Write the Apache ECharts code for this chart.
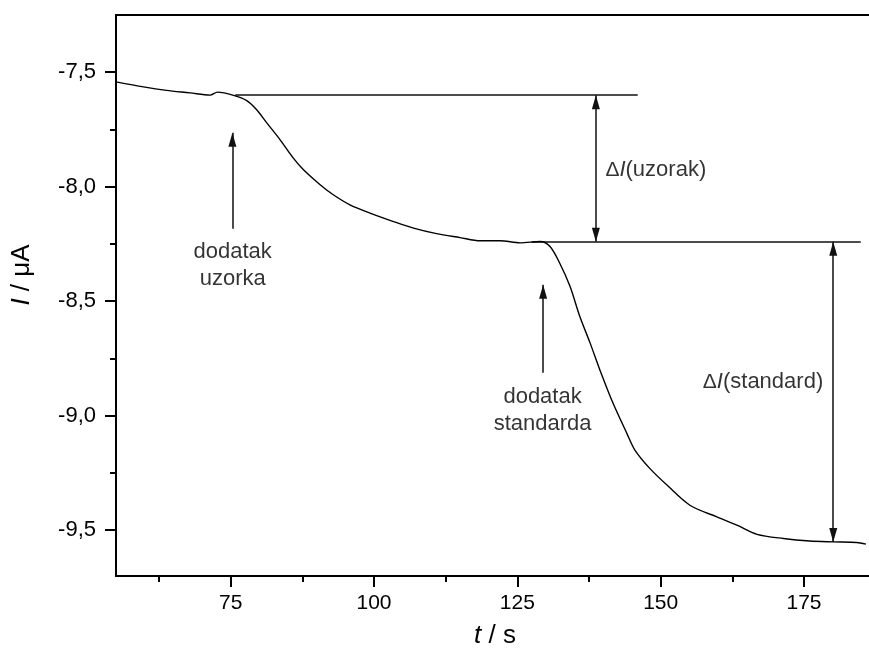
<!DOCTYPE html>
<html>
<head>
<meta charset="utf-8">
<script src="https://cdn.jsdelivr.net/npm/echarts@6/dist/echarts.min.js"></script>
<style>
  html, body { margin: 0; padding: 0; background: #fff; }
  #chart { width: 869px; height: 649px; }
</style>
</head>
<body>
<div id="chart"></div>
<script>
// Amperometric current recorded over time (t / s, I / µA)
const timeS = [55.0, 59.8, 63.8, 67.9, 71.4, 72.7, 75.5, 77.8, 79.5, 81.3, 83.6, 85.9, 87.7, 90.6,
  92.9, 95.8, 99.3, 103.4, 106.9, 110.9, 115.0, 118.5, 122.0, 125.5, 129.0, 130.7, 132.4, 134.2,
  135.9, 137.7, 139.4, 141.7, 144.1, 145.5, 148.1, 151.1, 155.1, 159.8, 163.3, 166.8, 171.4,
  176.0, 180.1, 184.2, 185.8];
const currentUA = [-7.542, -7.564, -7.579, -7.590, -7.600, -7.587, -7.601, -7.624, -7.663, -7.721,
  -7.794, -7.874, -7.926, -7.991, -8.035, -8.079, -8.115, -8.152, -8.181, -8.205, -8.222, -8.236,
  -8.236, -8.245, -8.239, -8.261, -8.334, -8.436, -8.567, -8.683, -8.800, -8.946, -9.077, -9.150,
  -9.230, -9.303, -9.391, -9.442, -9.478, -9.518, -9.536, -9.547, -9.551, -9.554, -9.561];

// Axis ticks
const xTicks = [75, 100, 125, 150, 175];
const xMinorTicks = [62.5, 87.5, 112.5, 137.5, 162.5, 187.5];
const yTicks = [-9.5, -9.0, -8.5, -8.0, -7.5];
const yMinorTicks = [-9.25, -8.75, -8.25, -7.75];

// Baselines before/after each addition: [t, I] end points
const sampleBaseline = [[75.8, -7.60], [146.0, -7.60]];
const standardBaseline = [[127.5, -8.24], [184.9, -8.24]];

// Double-headed arrows showing the current steps
const deltaSample = [[138.7, -7.60], [138.7, -8.24]];
const deltaStandard = [[180.1, -8.24], [180.1, -9.551]];

// Arrows pointing at the moment of each addition (tail, head)
const sampleArrow = [[75.3, -8.184], [75.3, -7.764]];
const standardArrow = [[129.5, -8.812], [129.5, -8.428]];

// Annotation texts anchored at [t, I]
const noteTexts = ['dodatak\nuzorka', 'dodatak\nstandarda', '{d|Δ}{i|I}{n|(uzorak)}', '{d|Δ}{i|I}{n|(standard)}'];
const notePos = [[75.35, -8.345], [129.4, -8.977], [149.15, -7.926], [167.85, -8.853]];

const FONT = 'Liberation Sans, Arial, sans-serif';
const INK = '#000';
const GUIDE = '#111';

// Arrowhead: narrow filled triangle whose tip sits at the symbol centre,
// so the head ends exactly on the line end point.
const HEAD = 'path://M4,0 M4,14 L8,28 L0,28 Z';
const HEAD_SIZE = [8, 28];

const chart = echarts.init(document.getElementById('chart'), null, { renderer: 'canvas' });

const fmtY = v => v.toFixed(1).replace('.', ',');

const curve = timeS.map((t, i) => [t, currentUA[i]]);

const option = {
  animation: false,
  backgroundColor: '#fff',
  grid: {
    left: 116, top: 15, width: 774, height: 561,
    outerBoundsMode: 'none', containLabel: false,
    show: true, borderColor: INK, borderWidth: 2, backgroundColor: 'transparent'
  },
  xAxis: [{
    type: 'value', min: 55, max: 190,
    axisLine: { show: true, onZero: false, lineStyle: { color: INK, width: 2 } },
    axisTick: { show: true, inside: false, length: 11, customValues: xTicks, lineStyle: { color: INK, width: 2 } },
    axisLabel: { show: true, customValues: xTicks, margin: 17, color: INK, fontSize: 21, fontFamily: FONT },
    splitLine: { show: false }
  }, {
    type: 'value', min: 55, max: 190, position: 'bottom',
    axisLine: { show: false },
    axisTick: { show: true, inside: false, length: 6, customValues: xMinorTicks, lineStyle: { color: INK, width: 2 } },
    axisLabel: { show: false },
    splitLine: { show: false }
  }],
  yAxis: [{
    type: 'value', min: -9.7, max: -7.25,
    axisLine: { show: true, onZero: false, lineStyle: { color: INK, width: 2 } },
    axisTick: { show: true, inside: false, length: 11, customValues: yTicks, lineStyle: { color: INK, width: 2 } },
    axisLabel: { show: true, customValues: yTicks, margin: 20, color: INK, fontSize: 22, fontFamily: FONT, formatter: fmtY },
    splitLine: { show: false }
  }, {
    type: 'value', min: -9.7, max: -7.25, position: 'left',
    axisLine: { show: false },
    axisTick: { show: true, inside: false, length: 6, customValues: yMinorTicks, lineStyle: { color: INK, width: 2 } },
    axisLabel: { show: false },
    splitLine: { show: false }
  }],
  graphic: [{
    type: 'text', x: 22, y: 275, rotation: Math.PI / 2,
    style: {
      text: '{i|I}{n| / μA}', align: 'center', verticalAlign: 'middle', fill: INK,
      rich: {
        i: { fontSize: 26, fontStyle: 'italic', fontFamily: FONT, fill: INK },
        n: { fontSize: 26, fontFamily: FONT, fill: INK }
      }
    }
  }, {
    type: 'text', x: 495, y: 636,
    style: {
      text: '{i|t}{n| / s}', align: 'center', verticalAlign: 'middle', fill: INK,
      rich: {
        i: { fontSize: 26, fontStyle: 'italic', fontFamily: FONT, fill: INK },
        n: { fontSize: 26, fontFamily: FONT, fill: INK }
      }
    }
  }],
  series: [{
    name: 'I',
    type: 'line',
    data: curve,
    showSymbol: false,
    smooth: 0.3,
    lineStyle: { color: INK, width: 1.4 },
    z: 5
  }, {
    name: 'baselines',
    type: 'lines',
    coordinateSystem: 'cartesian2d',
    symbol: 'none',
    lineStyle: { color: GUIDE, width: 1.5, opacity: 1 },
    data: [{ coords: sampleBaseline }, { coords: standardBaseline }],
    z: 4
  }, {
    name: 'steps',
    type: 'lines',
    coordinateSystem: 'cartesian2d',
    symbol: [HEAD, HEAD],
    symbolSize: [HEAD_SIZE, HEAD_SIZE],
    lineStyle: { color: GUIDE, width: 1.5, opacity: 1 },
    itemStyle: { color: GUIDE },
    data: [{ coords: deltaSample }, { coords: deltaStandard }],
    z: 4
  }, {
    name: 'additions',
    type: 'lines',
    coordinateSystem: 'cartesian2d',
    symbol: ['none', HEAD],
    symbolSize: [HEAD_SIZE, HEAD_SIZE],
    lineStyle: { color: GUIDE, width: 1.5, opacity: 1 },
    itemStyle: { color: GUIDE },
    data: [{ coords: sampleArrow }, { coords: standardArrow }],
    z: 4
  }, {
    name: 'notes',
    type: 'scatter',
    symbolSize: 0,
    silent: true,
    data: notePos.map((p, i) => ({ value: p, name: noteTexts[i] })),
    label: {
      show: true, position: 'inside', formatter: p => p.name,
      color: INK, fontSize: 22, fontFamily: FONT, lineHeight: 27, align: 'center', verticalAlign: 'middle',
      rich: {
        d: { fontSize: 21, fontFamily: FONT, color: INK },
        i: { fontSize: 22, fontStyle: 'italic', fontFamily: FONT, color: INK },
        n: { fontSize: 22, fontFamily: FONT, color: INK }
      }
    },
    z: 6
  }]
};

chart.setOption(option);
</script>
</body>
</html>
